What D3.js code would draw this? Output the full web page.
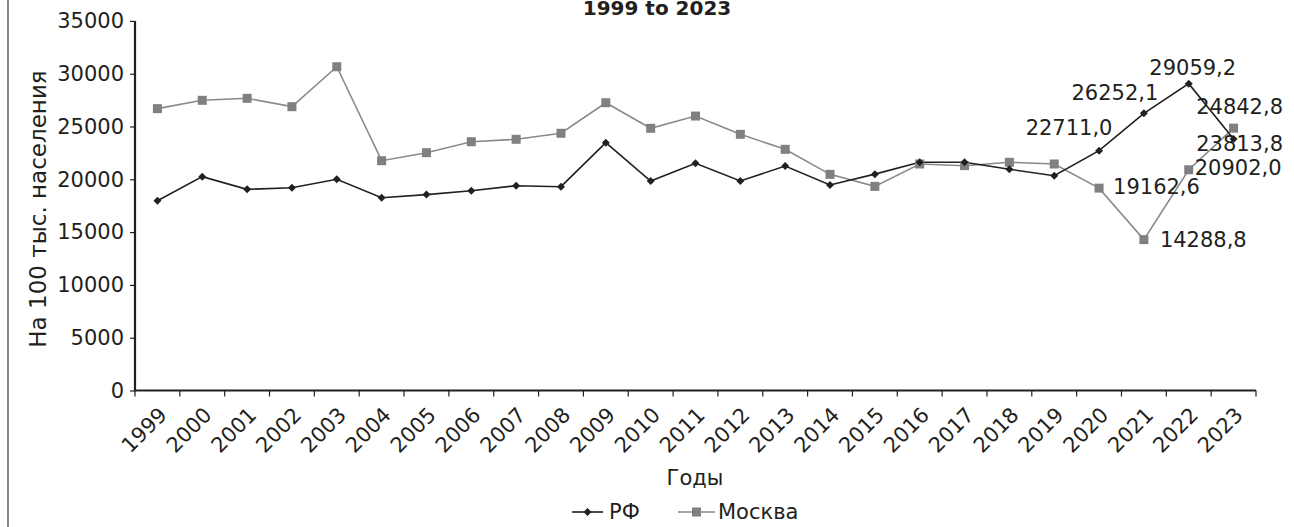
<!DOCTYPE html>
<html><head><meta charset="utf-8">
<script src="https://cdn.jsdelivr.net/npm/d3@7"></script>
<style>
html,body{margin:0;padding:0;background:#fff;}
svg text{font-family:"DejaVu Sans",sans-serif;fill:#231f20;}
</style></head>
<body>
<svg id="chart" width="1294" height="527"></svg>
<script>
const years = ["1999","2000","2001","2002","2003","2004","2005","2006","2007","2008","2009","2010","2011","2012","2013","2014","2015","2016","2017","2018","2019","2020","2021","2022","2023"];
const rfValues = [17970,20250,19050,19200,20000,18260,18550,18920,19390,19300,23470,19840,21520,19840,21260,19460,20490,21610,21610,20950,20340,22711.0,26252.1,29059.2,23813.8];
const moscowValues = [26690,27480,27670,26880,30660,21760,22520,23560,23790,24360,27250,24830,25990,24260,22840,20470,19330,21450,21290,21610,21450,19162.6,14288.8,20902.0,24842.8];
const yTicks = [0,5000,10000,15000,20000,25000,30000,35000];
const seriesNames = ["РФ","Москва"];
const titleText = "1999 to 2023";
const yAxisTitle = "На 100 тыс. населения";
const xAxisTitle = "Годы";
const labelFromIndex = 21;

(function(){
const svg = d3.select("#chart");
const mL = 135, mR = 1256, mT = 20.9, mB = 390.5;
const ink = "#231f20";
const grayLine = "#8a8a8a", graySq = "#808083";

const x = d3.scaleBand().domain(years).range([mL, mR]).padding(0);
const y = d3.scaleLinear().domain([0, 35000]).range([mB, mT]);
const cx = d => x(d) + x.bandwidth()/2;

// frame line at left
svg.append("line").attr("x1",8).attr("x2",8).attr("y1",0).attr("y2",527)
  .attr("stroke","#333").attr("stroke-width",1.2);

// title
svg.append("text").attr("x",657).attr("y",15).attr("text-anchor","middle")
  .attr("font-size",20).attr("font-weight","bold").text(titleText);

// y axis
const yAxis = svg.append("g").attr("transform",`translate(${mL},0)`)
  .call(d3.axisLeft(y).tickValues(yTicks).tickSize(5).tickPadding(6).tickFormat(d3.format("d")));
yAxis.select(".domain").attr("stroke",ink).attr("stroke-width",2.2).attr("d",`M0,${mT}V${mB}`);
yAxis.selectAll(".tick line").attr("stroke",ink).attr("stroke-width",1.2);
yAxis.selectAll(".tick text").attr("font-size",21).attr("fill",ink).attr("font-family","DejaVu Sans");

// x axis with ticks at band boundaries
const xg = svg.append("g").attr("transform",`translate(0,${mB})`);
xg.append("line").attr("x1",mL-1).attr("x2",mR).attr("y1",0).attr("y2",0)
  .attr("stroke",ink).attr("stroke-width",2.2);
const bounds = years.map(d => x(d)).concat([x.range()[1]]);
xg.selectAll("line.tk").data(bounds).enter().append("line").attr("class","tk")
  .attr("x1",d=>d).attr("x2",d=>d).attr("y1",0).attr("y2",6)
  .attr("stroke",ink).attr("stroke-width",1.2);
xg.selectAll("text.xl").data(years).enter().append("text").attr("class","xl")
  .attr("transform",d=>`translate(${cx(d)},${15}) rotate(-45)`)
  .attr("text-anchor","end").attr("dy","0.72em").attr("font-size",21).text(d=>d);

// axis titles
svg.append("text").attr("transform",`translate(46,209) rotate(-90)`)
  .attr("text-anchor","middle").attr("font-size",23).text(yAxisTitle);
svg.append("text").attr("x",695).attr("y",485).attr("text-anchor","middle")
  .attr("font-size",21).text(xAxisTitle);

// lines
const line = d3.line().x((d,i)=>cx(years[i])).y(d=>y(d));
svg.append("path").datum(moscowValues).attr("d",line).attr("fill","none")
  .attr("stroke",grayLine).attr("stroke-width",1.6);
svg.append("path").datum(rfValues).attr("d",line).attr("fill","none")
  .attr("stroke",ink).attr("stroke-width",1.6);

svg.selectAll("rect.mos").data(moscowValues).enter().append("rect").attr("class","mos")
  .attr("x",(d,i)=>cx(years[i])-4.5).attr("y",d=>y(d)-4.5).attr("width",9).attr("height",9)
  .attr("fill",graySq);
svg.selectAll("path.rf").data(rfValues).enter().append("path").attr("class","rf")
  .attr("d",d3.symbol().type(d3.symbolSquare).size(32)()).attr("fill",ink)
  .attr("transform",(d,i)=>`translate(${cx(years[i])},${y(d)}) rotate(45)`);

// data labels for last years
const fmt = v => v.toFixed(1).replace(".",",");
const rfOff = [[-30,-16,"middle"],[-29,-13,"middle"],[4,-9,"middle"],[6,12,"middle"]];
const mosOff = [[14,6,"start"],[16,7,"start"],[6,5,"start"],[6,-14,"middle"]];
years.slice(labelFromIndex).forEach((yr,k)=>{
  const i = labelFromIndex + k;
  svg.append("text").attr("x",cx(yr)+rfOff[k][0]).attr("y",y(rfValues[i])+rfOff[k][1])
    .attr("text-anchor",rfOff[k][2]).attr("font-size",21).text(fmt(rfValues[i]));
  svg.append("text").attr("x",cx(yr)+mosOff[k][0]).attr("y",y(moscowValues[i])+mosOff[k][1])
    .attr("text-anchor",mosOff[k][2]).attr("font-size",21).text(fmt(moscowValues[i]));
});

// legend
const lg = svg.append("g");
lg.append("line").attr("x1",572).attr("x2",603).attr("y1",512).attr("y2",512).attr("stroke",ink).attr("stroke-width",1.6);
lg.append("path").attr("d",d3.symbol().type(d3.symbolSquare).size(32)()).attr("fill",ink)
  .attr("transform","translate(587.5,512) rotate(45)");
lg.append("text").attr("x",609).attr("y",519).attr("font-size",21).text(seriesNames[0]);
lg.append("line").attr("x1",678).attr("x2",715).attr("y1",512).attr("y2",512).attr("stroke",grayLine).attr("stroke-width",1.6);
lg.append("rect").attr("x",692).attr("y",507.5).attr("width",9).attr("height",9).attr("fill",graySq);
lg.append("text").attr("x",718).attr("y",519).attr("font-size",21).text(seriesNames[1]);
})();
</script>
</body></html>
